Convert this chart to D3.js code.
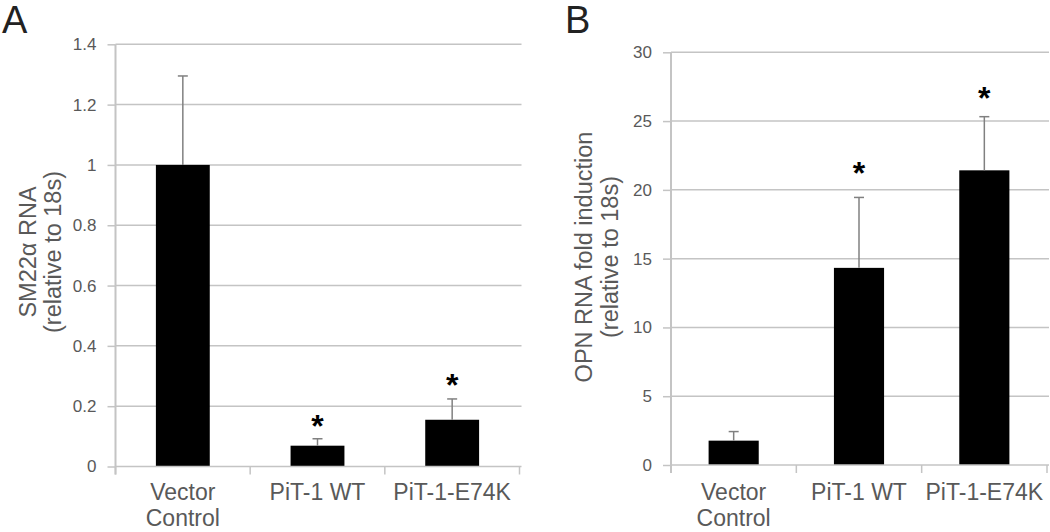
<!DOCTYPE html>
<html><head><meta charset="utf-8">
<script src="https://cdn.jsdelivr.net/npm/d3@7"></script>
<style>
body{margin:0;background:#fff}
svg{display:block}
text{font-family:"Liberation Sans",Arial,Helvetica,sans-serif}
</style>
</head><body>
<svg id="chart" width="1050" height="532"></svg>
<script>
// ---- data ----
const categories = ["Vector Control", "PiT-1 WT", "PiT-1-E74K"];
const categoryLines = [["Vector", "Control"], ["PiT-1 WT"], ["PiT-1-E74K"]];

const sm22Means  = [1.0, 0.069, 0.155];
const sm22Errors = [0.295, 0.023, 0.069];
const sm22Stars  = [null, 0.158, 0.292];
const sm22Ticks  = [0, 0.2, 0.4, 0.6, 0.8, 1.0, 1.2, 1.4];
const sm22TickLabels = ["0", "0.2", "0.4", "0.6", "0.8", "1", "1.2", "1.4"];
const sm22Title  = ["SM22α RNA", "(relative to 18s)"];

const opnMeans  = [1.77, 14.33, 21.42];
const opnErrors = [0.66, 5.12, 3.9];
const opnStars  = [null, 21.7, 27.2];
const opnTicks  = [0, 5, 10, 15, 20, 25, 30];
const opnTickLabels = ["0", "5", "10", "15", "20", "25", "30"];
const opnTitle  = ["OPN RNA fold induction", "(relative to 18s)"];

const panelLabels = ["A", "B"];

// ---- drawing ----
const svg = d3.select("#chart");
svg.append("rect").attr("width", 1050).attr("height", 532).attr("fill", "#fff");

const TEXT = "#595959", GRID = "#c4c4c4", ERR = "#808080";

function drawPanel(p) {
  const g = svg.append("g");
  const x = d3.scaleBand().domain(categories).range([p.x0, p.x1]).padding(0);
  const y = d3.scaleLinear().domain([0, p.ticks[p.ticks.length - 1]]).range([p.y0, p.y1]);

  // gridlines
  g.selectAll(".grid").data(p.ticks.filter(t => t > 0)).join("line")
    .attr("x1", p.x0).attr("x2", p.x1 + 2)
    .attr("y1", d => y(d)).attr("y2", d => y(d))
    .attr("stroke", GRID).attr("stroke-width", 1.5);

  // bars
  const bw = x.bandwidth() * 0.4;
  g.selectAll(".bar").data(categories).join("rect")
    .attr("x", d => x(d) + x.bandwidth() / 2 - bw / 2)
    .attr("width", bw)
    .attr("y", (d, i) => y(p.means[i]))
    .attr("height", (d, i) => y(0) - y(p.means[i]))
    .attr("fill", "#000");

  // y axis
  const ya = d3.axisLeft(y).tickValues(p.ticks).tickSize(8).tickPadding(11)
    .tickFormat((d, i) => p.tickLabels[i]);
  const yg = g.append("g").attr("transform", `translate(${p.x0},0)`).call(ya);
  yg.select(".domain").attr("stroke", GRID).attr("stroke-width", 2)
    .attr("d", `M0,${y(p.ticks[p.ticks.length - 1])}V${y(0) + 8}`);
  yg.selectAll(".tick line").attr("stroke", GRID).attr("stroke-width", 1.5);
  yg.selectAll(".tick text").attr("fill", TEXT).style("font-size", "17px")
    .style("font-family", '"Liberation Sans",Arial,sans-serif');

  // x axis line + boundary ticks
  g.append("line").attr("x1", p.x0).attr("x2", p.x1 + 2)
    .attr("y1", y(0)).attr("y2", y(0)).attr("stroke", GRID).attr("stroke-width", 1.5);
  const bounds = categories.map(c => x(c)).concat([x(categories[categories.length - 1]) + x.bandwidth()]);
  g.selectAll(".xt").data(bounds).join("line")
    .attr("x1", d => d).attr("x2", d => d)
    .attr("y1", y(0)).attr("y2", y(0) + 8)
    .attr("stroke", GRID).attr("stroke-width", 1.5);

  // x labels (one text per line)
  categories.forEach((c, i) => {
    categoryLines[i].forEach((line, j) => {
      g.append("text").attr("x", x(c) + x.bandwidth() / 2).attr("y", 500 + j * 26)
        .attr("text-anchor", "middle").attr("fill", TEXT).style("font-size", "23px").text(line);
    });
  });

  // error bars
  categories.forEach((c, i) => {
    const cx = x(c) + x.bandwidth() / 2;
    const top = y(p.means[i] + p.errors[i]);
    g.append("line").attr("x1", cx).attr("x2", cx)
      .attr("y1", y(p.means[i])).attr("y2", top)
      .attr("stroke", ERR).attr("stroke-width", 1.5);
    g.append("line").attr("x1", cx - 5).attr("x2", cx + 5)
      .attr("y1", top).attr("y2", top)
      .attr("stroke", ERR).attr("stroke-width", 1.5);
  });

  // significance stars
  categories.forEach((c, i) => {
    if (p.stars[i] == null) return;
    g.append("text").attr("x", x(c) + x.bandwidth() / 2).attr("y", y(p.stars[i]) + 18)
      .attr("text-anchor", "middle").attr("fill", "#000")
      .style("font-size", "32px").style("font-weight", "bold").text("*");
  });

  // y title
  const tt = g.append("text")
    .attr("transform", `translate(${p.titleX},${p.titleY}) rotate(-90)`)
    .attr("text-anchor", "middle").attr("fill", TEXT).style("font-size", "23.5px");
  p.title.forEach((line, j) => {
    tt.append("tspan").attr("x", 0).attr("y", j * p.titleGap).text(line);
  });

  // panel label
  g.append("text").attr("x", p.labelX).attr("y", 33).attr("fill", "#222")
    .style("font-size", "38px").text(p.label);
}

drawPanel({
  x0: 115.5, x1: 519.5, y0: 466.5, y1: 44.3,
  ticks: sm22Ticks, tickLabels: sm22TickLabels,
  means: sm22Means, errors: sm22Errors, stars: sm22Stars,
  title: sm22Title, titleX: 36, titleY: 252, titleGap: 25,
  label: panelLabels[0], labelX: 2
});
drawPanel({
  x0: 671, x1: 1047, y0: 465, y1: 52.3,
  ticks: opnTicks, tickLabels: opnTickLabels,
  means: opnMeans, errors: opnErrors, stars: opnStars,
  title: opnTitle, titleX: 592, titleY: 257, titleGap: 26,
  label: panelLabels[1], labelX: 565
});
</script>
</body></html>
